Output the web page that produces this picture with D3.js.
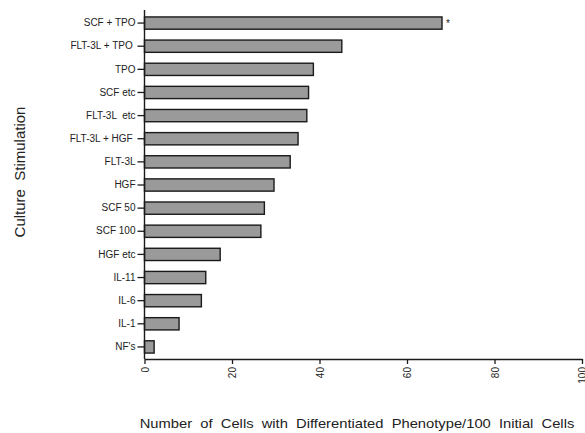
<!DOCTYPE html>
<html>
<head>
<meta charset="utf-8">
<script src="https://cdn.jsdelivr.net/npm/d3@7"></script>
<style>
	body { margin: 0; background: #fff; }
	svg { display: block; font-family: "Liberation Sans", Arial, sans-serif; }
	.label { white-space: pre; }
</style>
</head>
<body>
<svg id="chart" width="585" height="433"></svg>
<script>
'use strict';

// culture stimulations, top to bottom
const stimulations = ['SCF + TPO', 'FLT-3L + TPO ', 'TPO', 'SCF etc', 'FLT-3L  etc', 'FLT-3L + HGF ',
	'FLT-3L', 'HGF', 'SCF 50', 'SCF 100', 'HGF etc', 'IL-11', 'IL-6', 'IL-1', "NF's"];
// differentiated cells per 100 initial cells
const cellCounts = [68, 45.1, 38.6, 37.5, 37.1, 35.1, 33.3, 29.6, 27.4, 26.6, 17.3, 14.0, 13.0, 7.9, 2.2];
const xTicks = [0, 20, 40, 60, 80, 100];
const significant = ['SCF + TPO'];

const svg = d3.select('#chart');

const x = d3.scaleLinear()
	.domain([0, 100])
	.range([144.5, 582]);

const y = d3.scaleBand()
	.domain(stimulations)
	.range([11.5, 358.5])
	.paddingInner(0.47)
	.paddingOuter(0.235);

const data = stimulations.map((s, i) => ({ name: s, value: cellCounts[i] }));

// bars
svg.append('g')
	.selectAll('rect')
	.data(data)
	.join('rect')
		.attr('x', x(0))
		.attr('y', d => y(d.name))
		.attr('width', d => x(d.value) - x(0))
		.attr('height', y.bandwidth())
		.attr('fill', '#9a9a9a')
		.attr('stroke', '#1a1a1a')
		.attr('stroke-width', 1.4);

// asterisk for significant result
svg.append('g')
	.selectAll('text')
	.data(data.filter(d => significant.includes(d.name)))
	.join('text')
		.attr('x', d => x(d.value) + 4)
		.attr('y', d => y(d.name) + y.bandwidth() / 2 + 4)
		.attr('font-size', 10)
		.attr('fill', '#222')
		.text('*');

// y axis
const yAxis = svg.append('g')
	.attr('transform', `translate(${x(0)},0)`)
	.call(d3.axisLeft(y).tickSize(7).tickPadding(2));
yAxis.select('.domain')
	.attr('d', `M0,10V${359}`)
	.attr('stroke', '#1a1a1a')
	.attr('stroke-width', 1.4);
yAxis.selectAll('.tick line')
	.attr('stroke', '#1a1a1a')
	.attr('stroke-width', 1.3);
yAxis.selectAll('.tick text')
	.attr('class', 'label')
	.attr('font-size', 10)
	.attr('font-family', '"Liberation Sans", Arial, sans-serif')
	.attr('fill', '#222');

// x axis
const xAxis = svg.append('g')
	.attr('transform', 'translate(0,359)')
	.call(d3.axisBottom(x).tickValues(xTicks).tickSize(5).tickSizeOuter(0));
xAxis.select('.domain')
	.attr('stroke', '#1a1a1a')
	.attr('stroke-width', 1.4);
xAxis.selectAll('.tick line')
	.attr('stroke', '#1a1a1a')
	.attr('stroke-width', 1.3);
xAxis.selectAll('.tick text')
	.attr('font-size', 10)
	.attr('font-family', '"Liberation Sans", Arial, sans-serif')
	.attr('fill', '#222')
	.attr('text-anchor', 'end')
	.attr('dy', null)
	.attr('y', 0)
	.attr('transform', 'translate(3.5,8) rotate(-90)');

// axis titles
svg.append('text')
	.attr('class', 'label')
	.attr('transform', 'translate(25,172) rotate(-90)')
	.attr('text-anchor', 'middle')
	.attr('font-size', 15)
	.attr('fill', '#222')
	.text('Culture  Stimulation');

// x title: tall glyphs squeezed sideways to fit the width of the scanned figure
const xTitle = 'Number of Cells with Differentiated Phenotype/100 Initial Cells';
const xt = svg.append('text')
	.attr('class', 'label')
	.attr('x', 0)
	.attr('y', 0)
	.attr('text-anchor', 'middle')
	.attr('font-size', 12.5)
	.attr('fill', '#222')
	.text(xTitle.replace(/ /g, '  '));
const sx = 435 / xt.node().getComputedTextLength();
xt.attr('transform', `translate(357,428) scale(${sx},1)`);
</script>
</body>
</html>
